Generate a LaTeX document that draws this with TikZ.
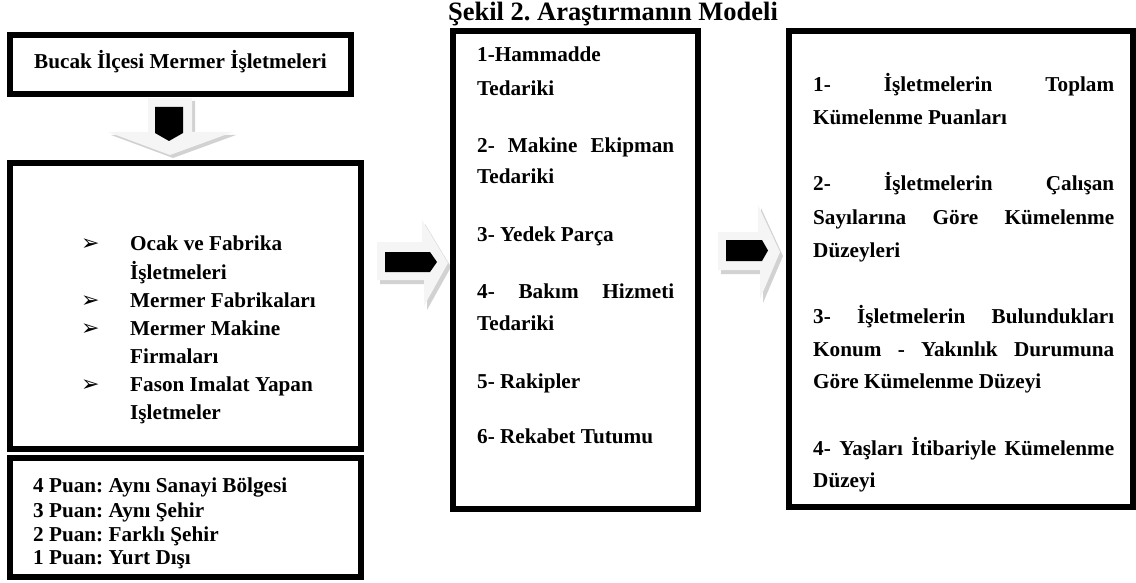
\documentclass[tikz,border=0pt]{standalone}
\usepackage{fontspec}
\setmainfont{Liberation Serif}
\newfontfamily\isaretfont{DejaVu Sans}
\usetikzlibrary{positioning}
\frenchspacing
\tikzset{
  kutu/.style={line width=6pt},
  yazi/.style={font=\fontsize{21.2}{25}\selectfont\bfseries, anchor=base west, inner sep=0pt},
  madde/.style={font=\isaretfont\fontsize{22}{24}\selectfont, anchor=base west, inner sep=0pt},
  okzemin/.style={fill=gray!8},
  okgolge/.style={fill=gray!35},
  okblok/.style={fill=black}
}
\newcommand{\yay}[2]{\makebox[#1][s]{#2}}

\begin{document}
\begin{tikzpicture}[x=1pt,y=-1pt]
      \useasboundingbox (0,0) rectangle (1136,583);
      % baslik
      \node [font=\fontsize{26.5}{30}\selectfont\bfseries, anchor=base, inner sep=0pt] (baslik) at (613,21) {Şekil 2. Araştırmanın Modeli};
      % sol sutun
      \draw [kutu] (10,35) rectangle (351,94);
      \node [yazi, anchor=base] (bucak) at (180.5,69) {Bucak İlçesi Mermer İşletmeleri};
      \fill [okgolge] (151,101) -- (195,101) -- (195,135) -- (236,135) -- (173,158) -- (111,135) -- (151,135) -- cycle;
      \fill [okzemin] (148,98) -- (192,98) -- (192,132) -- (233,132) -- (170,155) -- (108,132) -- (148,132) -- cycle;
      \fill [okblok] (155,107) -- (183,107) -- (183,133) -- (169,141) -- (155,133) -- cycle;
      \draw [kutu] (10,163) rectangle (361,449);
      \node [madde] (m1) at (81,251) {➢};
      \node [yazi] (ocak) at (130,251) {Ocak ve Fabrika};
      \node [yazi] (ocak2) at (130,279) {İşletmeleri};
      \node [madde] (m2) at (81,307) {➢};
      \node [yazi] (fabrika) at (130,307) {Mermer Fabrikaları};
      \node [madde] (m3) at (81,335) {➢};
      \node [yazi] (makine) at (130,335) {Mermer Makine};
      \node [yazi] (makine2) at (130,363) {Firmaları};
      \node [madde] (m4) at (81,391) {➢};
      \node [yazi] (fason) at (130,391) {Fason Imalat Yapan};
      \node [yazi] (fason2) at (130,419) {Işletmeler};
      \draw [kutu] (10,458) rectangle (361,577);
      \node [yazi] (puan4) at (33,492) {4 Puan: Aynı Sanayi Bölgesi};
      \node [yazi] (puan3) at (33,517) {3 Puan: Aynı Şehir};
      \node [yazi] (puan2) at (33,541) {2 Puan: Farklı Şehir};
      \node [yazi] (puan1) at (33,564) {1 Puan: Yurt Dışı};
      % birinci ok
      \fill [okgolge] (380,246) -- (425,246) -- (425,224) -- (451,267) -- (427,310) -- (427,284) -- (380,284) -- cycle;
      \fill [okzemin] (377,242) -- (422,242) -- (422,220) -- (448,263) -- (424,306) -- (424,280) -- (377,280) -- cycle;
      \fill [okblok] (385,252) -- (430,252) -- (437,262) -- (430,272) -- (385,272) -- cycle;
      % orta sutun
      \draw [kutu] (453,31) rectangle (698,509);
      \node [yazi] (ted1) at (477,62) {1-Hammadde};
      \node [yazi] (ted1b) at (477,96) {Tedariki};
      \node [yazi] (ted2) at (477,153) {\yay{197pt}{2- Makine Ekipman}};
      \node [yazi] (ted2b) at (477,184) {Tedariki};
      \node [yazi] (ted3) at (477,241) {3- Yedek Parça};
      \node [yazi] (ted4) at (477,298) {\yay{197pt}{4- Bakım Hizmeti}};
      \node [yazi] (ted4b) at (477,330) {Tedariki};
      \node [yazi] (ted5) at (477,388) {5- Rakipler};
      \node [yazi] (ted6) at (477,443) {6- Rekabet Tutumu};
      % ikinci ok
      \fill [okgolge] (721,236) -- (761,236) -- (761,208) -- (783,256) -- (763,303) -- (763,274) -- (721,274) -- cycle;
      \fill [okzemin] (718,232) -- (758,232) -- (758,205) -- (780,252) -- (760,299) -- (760,270) -- (718,270) -- cycle;
      \fill [okblok] (726,240) -- (762,240) -- (768,250.5) -- (762,261) -- (726,261) -- cycle;
      % sag sutun
      \draw [kutu] (789,31) rectangle (1133,507);
      \node [yazi] (kum1) at (813,92) {\yay{301pt}{1- İşletmelerin Toplam}};
      \node [yazi] (kum1b) at (813,125) {Kümelenme Puanları};
      \node [yazi] (kum2) at (813,190) {\yay{301pt}{2- İşletmelerin Çalışan}};
      \node [yazi] (kum2b) at (813,224) {\yay{301pt}{Sayılarına Göre Kümelenme}};
      \node [yazi] (kum2c) at (813,257) {Düzeyleri};
      \node [yazi] (kum3) at (813,323) {\yay{301pt}{3- İşletmelerin Bulundukları}};
      \node [yazi] (kum3b) at (813,356) {\yay{301pt}{Konum - Yakınlık Durumuna}};
      \node [yazi] (kum3c) at (813,388) {Göre Kümelenme Düzeyi};
      \node [yazi] (kum4) at (813,455) {\yay{301pt}{4- Yaşları İtibariyle Kümelenme}};
      \node [yazi] (kum4b) at (813,487) {Düzeyi};
   \end{tikzpicture}
\end{document}
